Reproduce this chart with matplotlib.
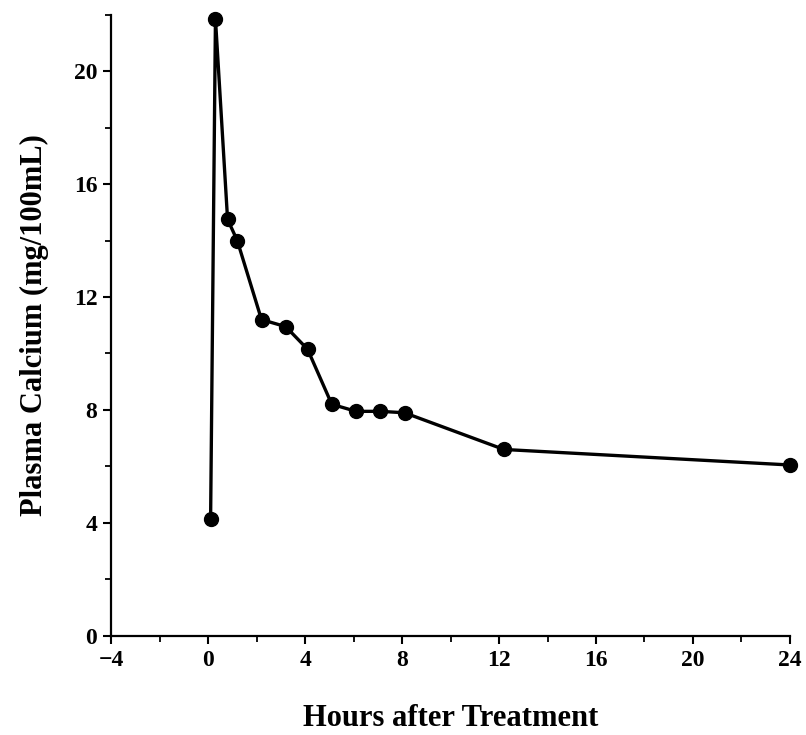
import matplotlib
matplotlib.use("Agg")
import matplotlib.pyplot as plt
from matplotlib.ticker import MultipleLocator

# hours after treatment and plasma calcium (mg/100 mL)
hours = [0.1, 0.3, 0.8, 1.2, 2.2, 3.2, 4.1, 5.1, 6.1, 7.1, 8.1, 12.2, 24.0]
calcium = [4.15, 21.85, 14.75, 14.0, 11.2, 10.95, 10.15, 8.2, 7.95, 7.95, 7.9, 6.6, 6.05]

xticks = [-4, 0, 4, 8, 12, 16, 20, 24]
yticks = [0, 4, 8, 12, 16, 20]

plt.rcParams["font.family"] = ["Liberation Serif", "DejaVu Serif"]
plt.rcParams["font.weight"] = "bold"

fig = plt.figure(figsize=(8.06, 7.35), dpi=100)
ax = fig.add_axes([0.138, 0.135, 0.842, 0.845])

ax.plot(hours, calcium, color="black", lw=2.4, marker="o", ms=10,
        markerfacecolor="black", markeredgecolor="black", clip_on=False, zorder=3)

ax.set_xlim(-4, 24)
ax.set_ylim(0, 22)
ax.set_xticks(xticks)
ax.set_yticks(yticks)
ax.xaxis.set_minor_locator(MultipleLocator(2))
ax.yaxis.set_minor_locator(MultipleLocator(2))

for side in ["top", "right"]:
    ax.spines[side].set_visible(False)
for side in ["left", "bottom"]:
    ax.spines[side].set_linewidth(1.6)

ax.tick_params(which="major", direction="out", length=6, width=1.5,
               labelsize=17, pad=4)
ax.tick_params(which="minor", direction="out", length=4, width=1.3)
for lab in ax.get_xticklabels() + ax.get_yticklabels():
    lab.set_fontweight("bold")

ax.set_xlabel("Hours after Treatment", fontsize=22, fontweight="bold", labelpad=24)
ax.set_ylabel("Plasma Calcium (mg/100mL)", fontsize=22, fontweight="bold", labelpad=18)

fig.savefig("out.png", dpi=100)
